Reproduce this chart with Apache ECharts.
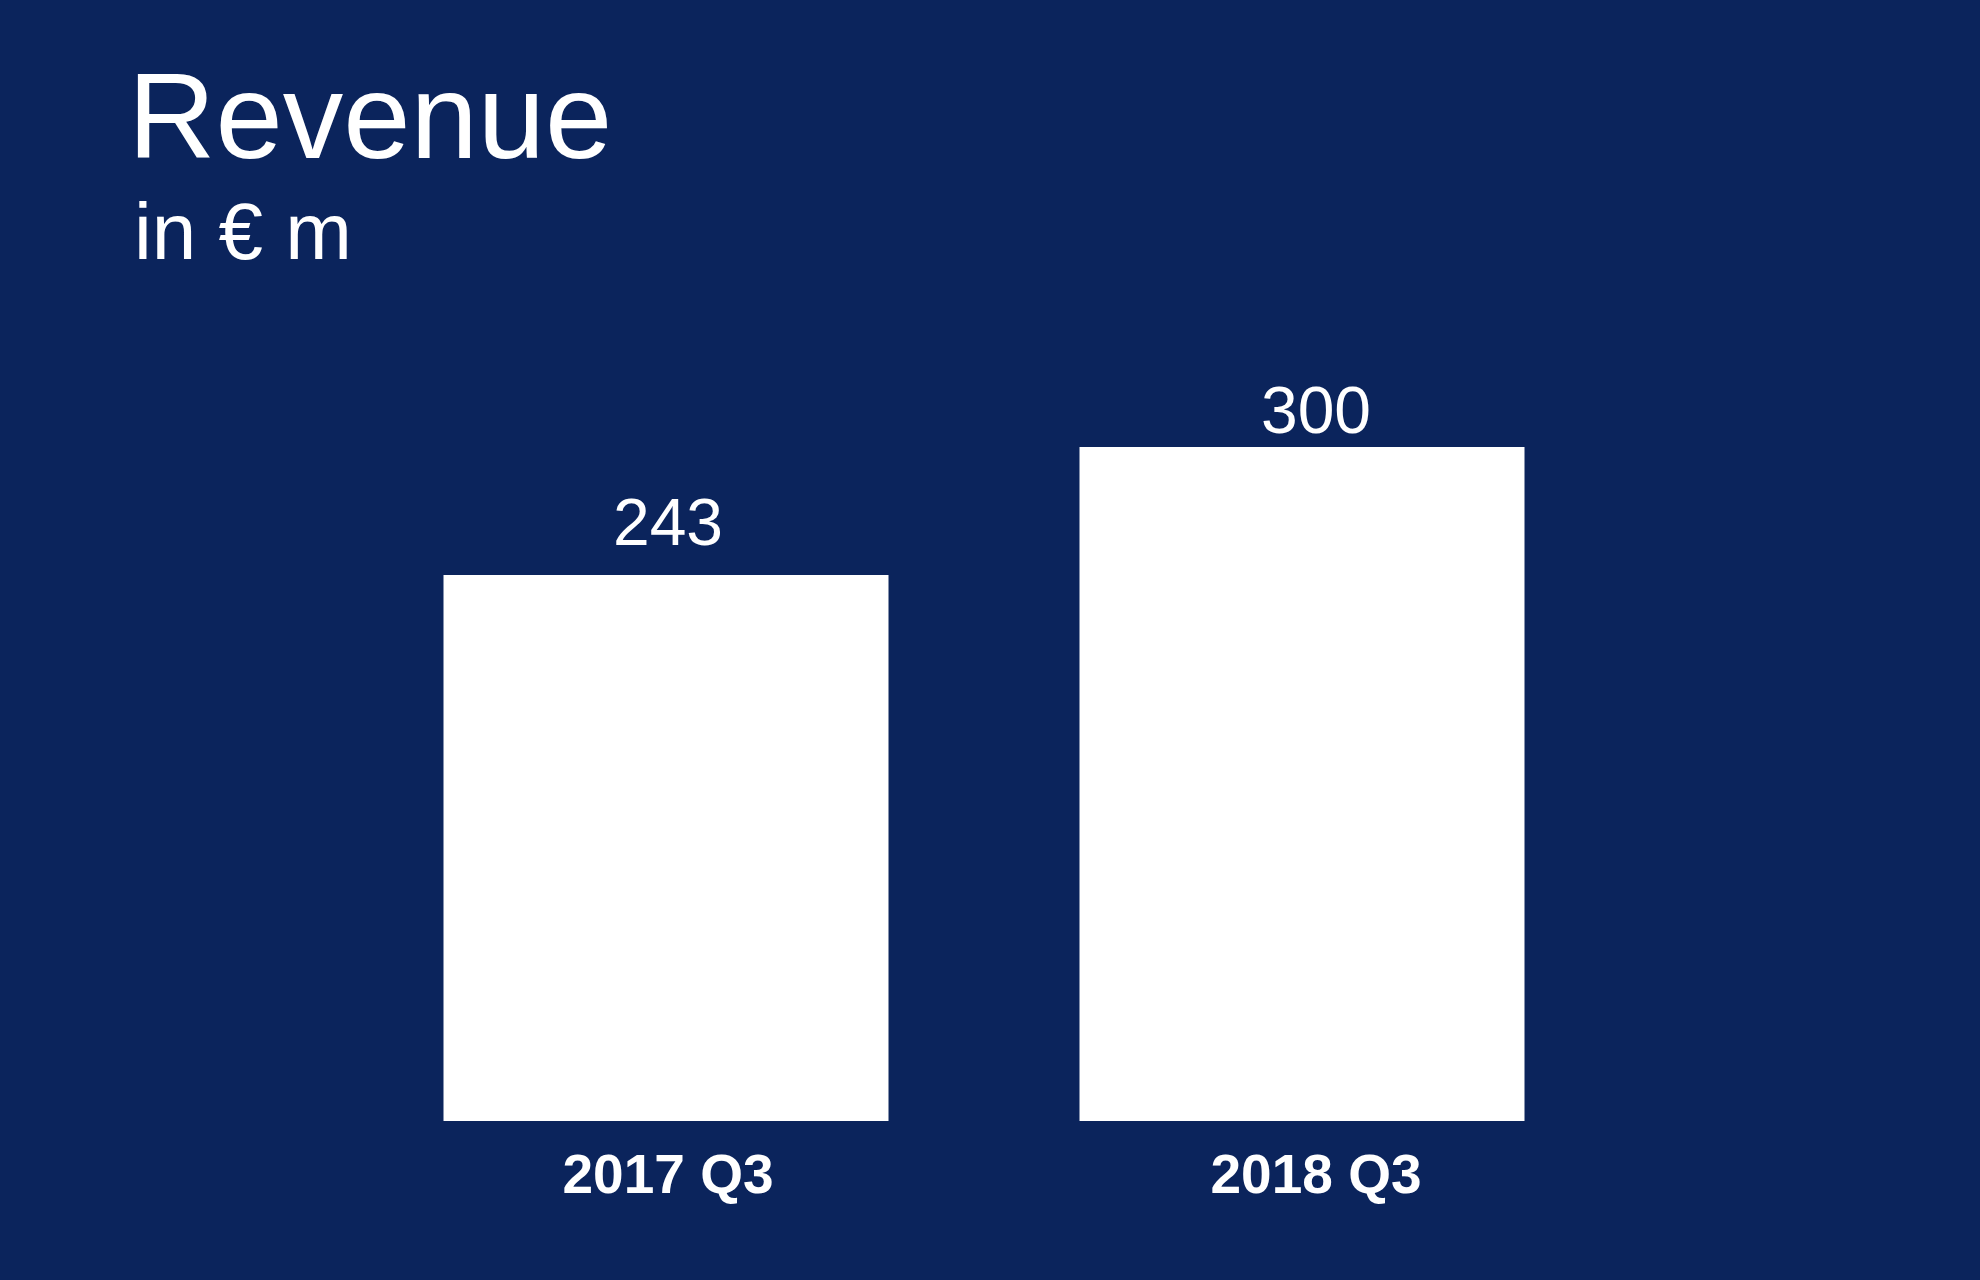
<!DOCTYPE html>
<html>
<head>
<meta charset="utf-8">
<title>Revenue</title>
<script src="https://cdn.jsdelivr.net/npm/echarts@6/dist/echarts.min.js"></script>
<style>
    html, body { margin: 0; padding: 0; background: #0b245c; }
    #chart { width: 1980px; height: 1280px; }
</style>
</head>
<body>
<div id="chart"></div>
<script>
// data
const categories = ['2017 Q3', '2018 Q3'];
const revenue = [243, 300];

const FONT = '"Liberation Sans", Arial, sans-serif';

const chart = echarts.init(document.getElementById('chart'));

const option = {
    backgroundColor: '#0b245c',
    animation: false,
    title: [
        {
            text: 'Revenue',
            left: 123,
            top: 59,
            textStyle: { color: '#fff', fontSize: 121, fontWeight: 'normal', fontFamily: FONT }
        },
        {
            text: 'in € m',
            left: 129,
            top: 192,
            textStyle: { color: '#fff', fontSize: 80, fontWeight: 'normal', fontFamily: FONT }
        }
    ],
    grid: { left: 348, right: 360, top: 447, bottom: 159 },
    xAxis: {
        type: 'category',
        data: categories,
        axisLine: { show: false },
        axisTick: { show: false },
        axisLabel: {
            margin: 29,
            // second label sits a bit right of its bar in the original
            formatter: function (value, idx) {
                return idx === 1 ? '{r|' + value + '}' : '{l|' + value + '}';
            },
            rich: {
                l: { color: '#fff', fontSize: 55, fontWeight: 'bold', fontFamily: FONT, padding: [0, 0, 0, 4] },
                r: { color: '#fff', fontSize: 55, fontWeight: 'bold', fontFamily: FONT, padding: [0, 0, 0, 28] }
            }
        }
    },
    yAxis: {
        type: 'value',
        min: 0,
        max: 300,
        show: false,
        splitLine: { show: false }
    },
    series: [{
        type: 'bar',
        barWidth: 445,
        itemStyle: { color: '#ffffff' },
        label: {
            show: true,
            position: 'top',
            color: '#fff',
            fontSize: 66,
            fontFamily: FONT
        },
        data: [
            { value: revenue[0], label: { distance: 19, offset: [2, 4] } },
            { value: revenue[1], label: { distance: 3, offset: [14, 4] } }
        ]
    }]
};

chart.setOption(option);
</script>
</body>
</html>
